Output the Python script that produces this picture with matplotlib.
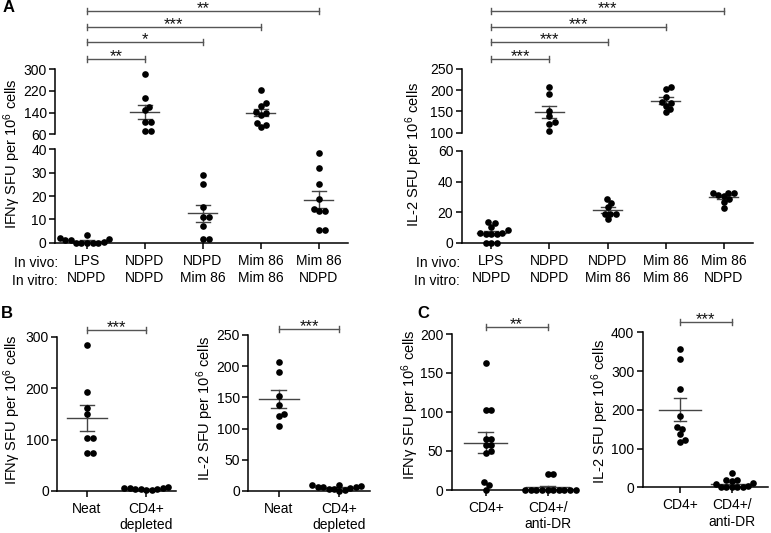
import numpy as np
import matplotlib
matplotlib.use('Agg')
import matplotlib.pyplot as plt
from matplotlib.transforms import blended_transform_factory

plt.rcParams['font.family'] = ['Liberation Sans', 'DejaVu Sans']
plt.rcParams['mathtext.fontset'] = 'custom'
plt.rcParams['mathtext.rm'] = 'Liberation Sans'
plt.rcParams['mathtext.it'] = 'Liberation Sans:italic'

# ---------------- data ----------------
a_vivo = ['LPS', 'NDPD', 'NDPD', 'Mim 86', 'Mim 86']
a_vitro = ['NDPD', 'NDPD', 'Mim 86', 'Mim 86', 'NDPD']

a_ifn_lps = [0, 1.5, 2, 1, 0.5, 1, 0, 0, 3.5, 0, 0]
a_ifn_ndpd = [283, 193, 162, 150, 104, 104, 73, 73]
a_ifn_ndpd_mim = [29, 25, 15.4, 11, 11, 7, 1.4, 1.4]
a_ifn_mim_mim = [224, 177, 165, 140, 141, 131, 103, 88, 94]
a_ifn_mim_ndpd = [38.4, 32.1, 25, 18.6, 14.4, 13.4, 13.4, 5.4, 5.4]

a_il2_lps = [8, 13.5, 13, 10.5, 6.5, 6, 6, 6.5, 5.5, 0, 0, 0]
a_il2_ndpd = [207, 191, 152, 138, 124, 120, 104]
a_il2_ndpd_mim = [15.3, 23.1, 26.2, 28.8, 18.5, 18.5, 18.5]
a_il2_mim_mim = [202, 208, 169, 173, 183, 163, 155, 148]
a_il2_mim_ndpd = [32.7, 28.6, 31.5, 32.7, 30.5, 32.7, 22.9, 26.8]

a_ifn_stars = ['**', '*', '***', '**']
a_il2_stars = ['***', '***', '***', '***']

b_cats = ['Neat', 'CD4+\ndepleted']
b_ifn_neat = [283, 193, 162, 150, 104, 104, 73, 73]
b_ifn_dep = [6, 5, 7, 4, 3, 5, 3, 2, 1]
b_il2_neat = [207, 191, 152, 138, 124, 120, 104]
b_il2_dep = [9, 10, 8, 7, 4, 3, 2, 0, 5, 7, 6]
b_ifn_star = '***'
b_il2_star = '***'

c_cats = ['CD4+', 'CD4+/\nanti-DR']
c_ifn_cd4 = [163, 103, 103, 66, 66, 58, 58, 47, 50, 10, 6, 0]
c_ifn_dr = [20, 20, 0, 0, 0, 0, 0, 0, 0, 0, 0, 0]
c_il2_cd4 = [358, 330, 253, 183, 155, 150, 137, 123, 117]
c_il2_dr = [37, 20, 18, 16, 10, 8, 3, 2, 1, 0, 0, 0]
c_ifn_star = '**'
c_il2_star = '***'

# ---------------- figure ----------------
W, H = 771, 533
fig = plt.figure(figsize=(W / 100, H / 100), dpi=100)

TICK_FS = 10
LAB_FS = 10.5
MS = 4.8
DIAM = 5.6
LINEC = '#444444'


def add_ax(l, r, t, b):
    return fig.add_axes([l / W, 1 - b / H, (r - l) / W, (b - t) / H])


def style(ax, bottom=True):
    for s in ['top', 'right']:
        ax.spines[s].set_visible(False)
    ax.spines['left'].set_linewidth(1.1)
    ax.spines['bottom'].set_linewidth(1.1)
    if not bottom:
        ax.spines['bottom'].set_visible(False)
        ax.tick_params(axis='x', bottom=False, labelbottom=False)
    ax.tick_params(direction='out', length=4, width=1.1, labelsize=TICK_FS, pad=2)
    ax.patch.set_alpha(0)


def swarm(ax, xc, vals):
    vals = np.asarray(vals, float)
    tr = ax.transData
    pts = tr.transform(np.column_stack([np.full(len(vals), xc), vals]))
    ypx = pts[:, 1]
    x0 = pts[0, 0]
    order = np.argsort(ypx, kind='stable')
    placed = []
    offs = np.zeros(len(vals))
    for i in order:
        y = ypx[i]
        cands = [0.0]
        for xo, yo in placed:
            dy = abs(y - yo)
            if dy < DIAM:
                dx = np.sqrt(DIAM ** 2 - dy ** 2)
                cands += [xo + dx, xo - dx]
        cands.sort(key=lambda c: (round(abs(c), 3), -c))
        chosen = 0.0
        for c in cands:
            if all((c - xo) ** 2 + (y - yo) ** 2 >= DIAM ** 2 - 1e-6 for xo, yo in placed):
                chosen = c
                break
        placed.append((chosen, y))
        offs[i] = chosen
    xd = tr.inverted().transform(np.column_stack([x0 + offs, ypx]))[:, 0]
    return xd, vals


def meansem(ax, xc, vals, hw, cw):
    v = np.asarray(vals, float)
    m = v.mean()
    se = v.std(ddof=1) / np.sqrt(len(v))
    ax.plot([xc - hw, xc + hw], [m, m], color=LINEC, lw=1.0, zorder=3, clip_on=False)
    ax.plot([xc, xc], [m - se, m + se], color=LINEC, lw=1.0, zorder=3, clip_on=False)
    for yy in (m - se, m + se):
        ax.plot([xc - cw, xc + cw], [yy, yy], color=LINEC, lw=1.0, zorder=3, clip_on=False)


def bracket(ax, x1, x2, ypx, star, fs=12):
    tr = blended_transform_factory(ax.transData, fig.transFigure)
    yf = 1 - ypx / H
    cap = 3.0 / H
    ax.plot([x1, x2], [yf, yf], color='#555555', lw=1.0, transform=tr, clip_on=False)
    for x in (x1, x2):
        ax.plot([x, x], [yf - cap, yf + cap], color='#555555', lw=1.0, transform=tr, clip_on=False)
    ax.text((x1 + x2) / 2, yf - 2.5 / H, star, transform=tr, ha='center', va='baseline',
            fontsize=fs, color='#111111')


def dots(ax, xc, vals):
    xd, v = swarm(ax, xc, vals)
    ax.plot(xd, v, 'o', ms=MS, color='black', mec='black', mew=0, zorder=4, clip_on=False)


def ylabel(x, y, s):
    fig.text(x / W, 1 - y / H, s, rotation=90, ha='center', va='center', fontsize=LAB_FS)


# ---------- Panel A ----------
def broken_panel(l, r, low_tb, up_tb, xlim, lylim, lyt, uylim, uyt, groups, stars, split, lab, labx):
    lo = add_ax(l, r, *low_tb)
    up = add_ax(l, r, *up_tb)
    for ax in (lo, up):
        ax.set_xlim(*xlim)
    lo.set_ylim(*lylim)
    up.set_ylim(*uylim)
    lo.set_yticks(lyt)
    up.set_yticks(uyt)
    style(lo)
    style(up, bottom=False)
    lo.set_xticks(range(len(a_vivo)))
    lo.set_xticklabels([f'{a}\n{b}' for a, b in zip(a_vivo, a_vitro)], linespacing=1.3)
    lo.tick_params(axis='x', pad=4)
    for i, g in enumerate(groups):
        g = np.asarray(g, float)
        low = g[g < split]
        hi = g[g >= split]
        if len(low):
            dots(lo, i, low)
        if len(hi):
            dots(up, i, hi)
        ax = up if g.mean() >= split else lo
        meansem(ax, i, g, 0.25, 0.12)
    for k, s in enumerate(stars):
        bracket(up, 0, k + 1, [59, 42, 27, 11][k], s)
    ylabel(labx, 154, lab)
    return lo, up


lo1, up1 = broken_panel(55, 348, (149.3, 242.7), (69.3, 134.3), (-0.55, 4.5), (0, 40), [0, 10, 20, 30, 40],
                        (60, 300), [60, 140, 220, 300],
                        [a_ifn_lps, a_ifn_ndpd, a_ifn_ndpd_mim, a_ifn_mim_mim, a_ifn_mim_ndpd],
                        a_ifn_stars, 50, 'IFNγ SFU per 10$^6$ cells', 12)
lo2, up2 = broken_panel(461.7, 752.8, (151, 242.7), (68.7, 132.7), (-0.51, 4.5), (0, 60), [0, 20, 40, 60],
                        (100, 250), [100, 150, 200, 250],
                        [a_il2_lps, a_il2_ndpd, a_il2_ndpd_mim, a_il2_mim_mim, a_il2_mim_ndpd],
                        a_il2_stars, 80, 'IL-2 SFU per 10$^6$ cells', 414)

for xr in (58, 460):
    fig.text(xr / W, 1 - 263 / H, 'In vivo:', ha='right', va='center', fontsize=TICK_FS)
    fig.text(xr / W, 1 - 281 / H, 'In vitro:', ha='right', va='center', fontsize=TICK_FS)


# ---------- Panels B, C ----------
def simple(l, r, t, b, xlim, ylim, yt, cats, g1, g2, star, bry, lab, labx, laby, hw):
    ax = add_ax(l, r, t, b)
    ax.set_xlim(*xlim)
    ax.set_ylim(*ylim)
    ax.set_yticks(yt)
    style(ax)
    ax.set_xticks([0, 1])
    ax.set_xticklabels(cats, linespacing=1.2)
    ax.tick_params(axis='x', pad=4)
    for i, g in enumerate([g1, g2]):
        dots(ax, i, g)
        meansem(ax, i, g, hw, 0.12)
    bracket(ax, 0, 1, bry, star)
    ylabel(labx, laby, lab)
    return ax


simple(57.3, 176, 336.7, 491, (-0.5, 1.5), (0, 300), [0, 100, 200, 300], b_cats,
       b_ifn_neat, b_ifn_dep, b_ifn_star, 330, 'IFNγ SFU per 10$^6$ cells', 12, 410, 0.33)
simple(248.3, 369.7, 335, 491, (-0.5, 1.5), (0, 250), [0, 50, 100, 150, 200, 250], b_cats,
       b_il2_neat, b_il2_dep, b_il2_star, 329, 'IL-2 SFU per 10$^6$ cells', 205, 408, 0.33)
simple(451.7, 578, 334, 490, (-0.55, 1.49), (0, 200), [0, 50, 100, 150, 200], c_cats,
       c_ifn_cd4, c_ifn_dr, c_ifn_star, 327, 'IFNγ SFU per 10$^6$ cells', 410, 405, 0.35)
simple(642.7, 768, 332.3, 487.3, (-0.72, 1.70), (0, 400), [0, 100, 200, 300, 400], c_cats,
       c_il2_cd4, c_il2_dr, c_il2_star, 322, 'IL-2 SFU per 10$^6$ cells', 600, 411, 0.41)

# panel letters
fig.text(3 / W, 1 - 8 / H, 'A', fontsize=12, fontweight='bold', ha='left', va='center')
fig.text(1 / W, 1 - 314 / H, 'B', fontsize=12, fontweight='bold', ha='left', va='center')
fig.text(417 / W, 1 - 313 / H, 'C', fontsize=12, fontweight='bold', ha='left', va='center')

fig.savefig('out.png', dpi=100)
